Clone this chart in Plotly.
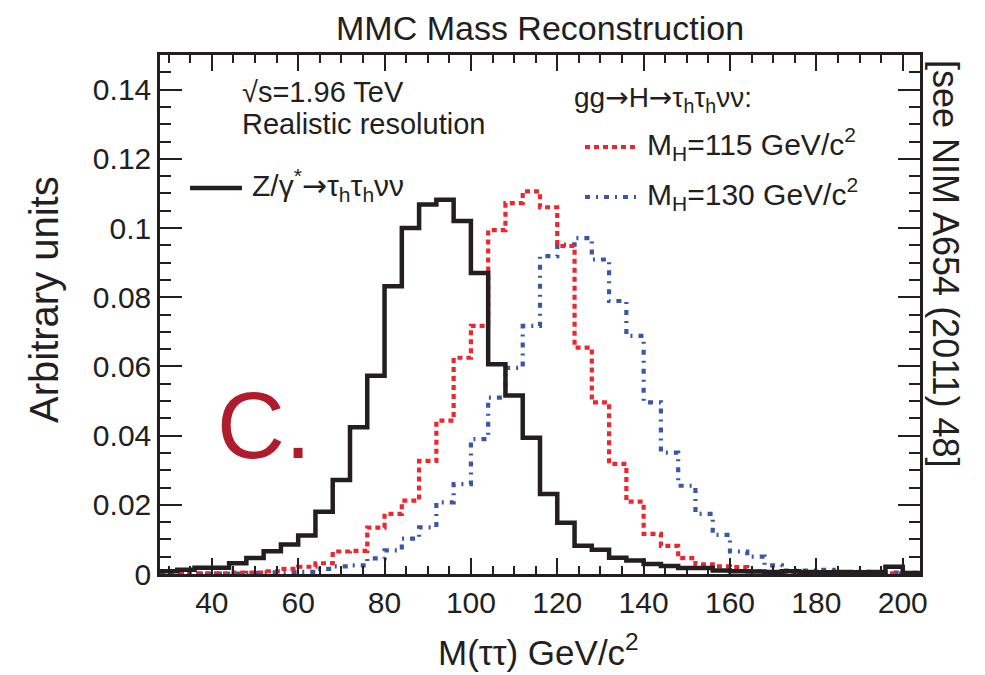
import numpy as np
import plotly.graph_objects as go

# ---------------- data ----------------
bin_lo, bin_hi, bin_w = 28, 204, 4

z_tautau = [0.0008, 0.0012, 0.0018, 0.0018, 0.0031, 0.0046, 0.0066, 0.0085, 0.0111, 0.0180,
            0.0272, 0.0424, 0.0573, 0.0832, 0.1000, 0.1068, 0.1082, 0.1020, 0.0870, 0.0606,
            0.0516, 0.0394, 0.0231, 0.0148, 0.0082, 0.0070, 0.0047, 0.0039, 0.0029, 0.0023,
            0.0017, 0.0017, 0.0010, 0.0008, 0.0007, 0.0006, 0.0008, 0.0006, 0.0005, 0.0006,
            0.0005, 0.0006, 0.0021, 0.0003]

h115 = [0.0002, 0.0002, 0.0002, 0.0002, 0.0004, 0.0004, 0.0008, 0.0015, 0.0021, 0.0031,
        0.0065, 0.0067, 0.0134, 0.0174, 0.0212, 0.0327, 0.0443, 0.0625, 0.0717, 0.0994,
        0.1072, 0.1106, 0.1060, 0.0948, 0.0654, 0.0496, 0.0318, 0.0209, 0.0116, 0.0081,
        0.0046, 0.0028, 0.0022, 0.0020, 0.0008, 0.0004, 0.0003, 0.0003, 0.0002, 0.0002,
        0.0002, 0.0002, 0.0002, 0.0002]

h130 = [0.0001, 0.0001, 0.0001, 0.0001, 0.0001, 0.0003, 0.0005, 0.0005, 0.0006, 0.0015,
        0.0022, 0.0025, 0.0045, 0.0068, 0.0102, 0.0135, 0.0207, 0.0260, 0.0390, 0.0510,
        0.0596, 0.0717, 0.0919, 0.0952, 0.0971, 0.0909, 0.0789, 0.0688, 0.0496, 0.0351,
        0.0255, 0.0174, 0.0113, 0.0065, 0.0050, 0.0025, 0.0010, 0.0010, 0.0012, 0.0005,
        0.0006, 0.0004, 0.0004, 0.0003]

x_ticks = [40, 60, 80, 100, 120, 140, 160, 180, 200]
y_ticks = [0, 0.02, 0.04, 0.06, 0.08, 0.1, 0.12, 0.14]

# ---------------- styling ----------------
W, H = 985, 675
L, R, T, B = 160, 65, 55, 101
FONT = "Liberation Sans, Arial, Helvetica, sans-serif"
INK = "#231F20"
RED = "#EE2630"
BLUE = "#3A57A6"

pw, ph = W - L - R, H - T - B


def px(x):
    return (x - L) / pw


def py(y):
    return (H - B - y) / ph


edges = np.arange(bin_lo, bin_hi + bin_w / 2, bin_w)


def step_trace(vals, color, dash, width):
    return go.Scatter(x=list(edges), y=list(vals) + [vals[-1]], mode="lines",
                      line=dict(shape="hv", color=color, dash=dash, width=width),
                      showlegend=False, hoverinfo="skip")


fig = go.Figure()
fig.add_trace(step_trace(h130, BLUE, "5px,6px,2px,6px", 4.2))
fig.add_trace(step_trace(h115, RED, "5px,4px", 4.2))
fig.add_trace(step_trace(z_tautau, INK, "solid", 4.5))

axis_common = dict(showline=True, linewidth=2.5, linecolor=INK, mirror="allticks",
                   ticks="inside", tickcolor=INK, tickwidth=2, showgrid=False,
                   zeroline=False, tickfont=dict(family=FONT, size=30, color=INK))

fig.update_xaxes(range=[bin_lo, bin_hi], tickvals=x_ticks, ticklen=16,
                 minor=dict(dtick=5, tick0=0, ticklen=8, ticks="inside", tickwidth=2,
                            tickcolor=INK, showgrid=False),
                 **axis_common)
fig.update_yaxes(range=[0, 0.15], tickvals=y_ticks, ticklen=22,
                 ticktext=[("%g" % v) for v in y_ticks],
                 minor=dict(dtick=0.005, tick0=0, ticklen=11, ticks="inside", tickwidth=2,
                            tickcolor=INK, showgrid=False),
                 **axis_common)

ann = []


def text(x, y, s, size, anchor="left", angle=0, color=INK):
    ann.append(dict(x=px(x), y=py(y), xref="paper", yref="paper", text=s,
                    showarrow=False, xanchor=anchor, yanchor="middle", textangle=angle,
                    font=dict(family=FONT, size=size, color=color)))


ARROW = '<span style="font-family:DejaVu Sans">→</span>'

text(540, 28, "MMC Mass Reconstruction", 34, "center")
text(44, 300, "Arbitrary units", 40, "center", -90)
text(538, 650, "M(ττ) GeV/c<sup>2</sup>", 35, "center")
text(946, 264, "[see NIM A654 (2011) 48]", 36, "center", 90)
text(240, 92, "√s=1.96 TeV", 29)
text(240, 124, "Realistic resolution", 29)
text(250, 185, "Z/γ<sup>*</sup>" + ARROW + "τ<sub>h</sub>τ<sub>h</sub>νν", 30)
text(572, 99, "gg" + ARROW + "H" + ARROW + "τ<sub>h</sub>τ<sub>h</sub>νν:", 28)
text(645, 144, "M<sub>H</sub>=115 GeV/c<sup>2</sup>", 30)
text(645, 194, "M<sub>H</sub>=130 GeV/c<sup>2</sup>", 30)
text(215, 425, "C.", 94, color="#B01C2E")

shapes = [
    dict(type="line", xref="paper", yref="paper", x0=px(190), x1=px(242), y0=py(188), y1=py(188),
         line=dict(color=INK, width=4.5)),
    dict(type="line", xref="paper", yref="paper", x0=px(585), x1=px(637), y0=py(147), y1=py(147),
         line=dict(color=RED, width=4.2, dash="5px,4px")),
    dict(type="line", xref="paper", yref="paper", x0=px(585), x1=px(637), y0=py(197), y1=py(197),
         line=dict(color=BLUE, width=4.2, dash="5px,6px,2px,6px")),
]

fig.update_layout(width=W, height=H, margin=dict(l=L, r=R, t=T, b=B),
                  plot_bgcolor="white", paper_bgcolor="white",
                  annotations=ann, shapes=shapes, showlegend=False)

fig.write_html("out.html")
